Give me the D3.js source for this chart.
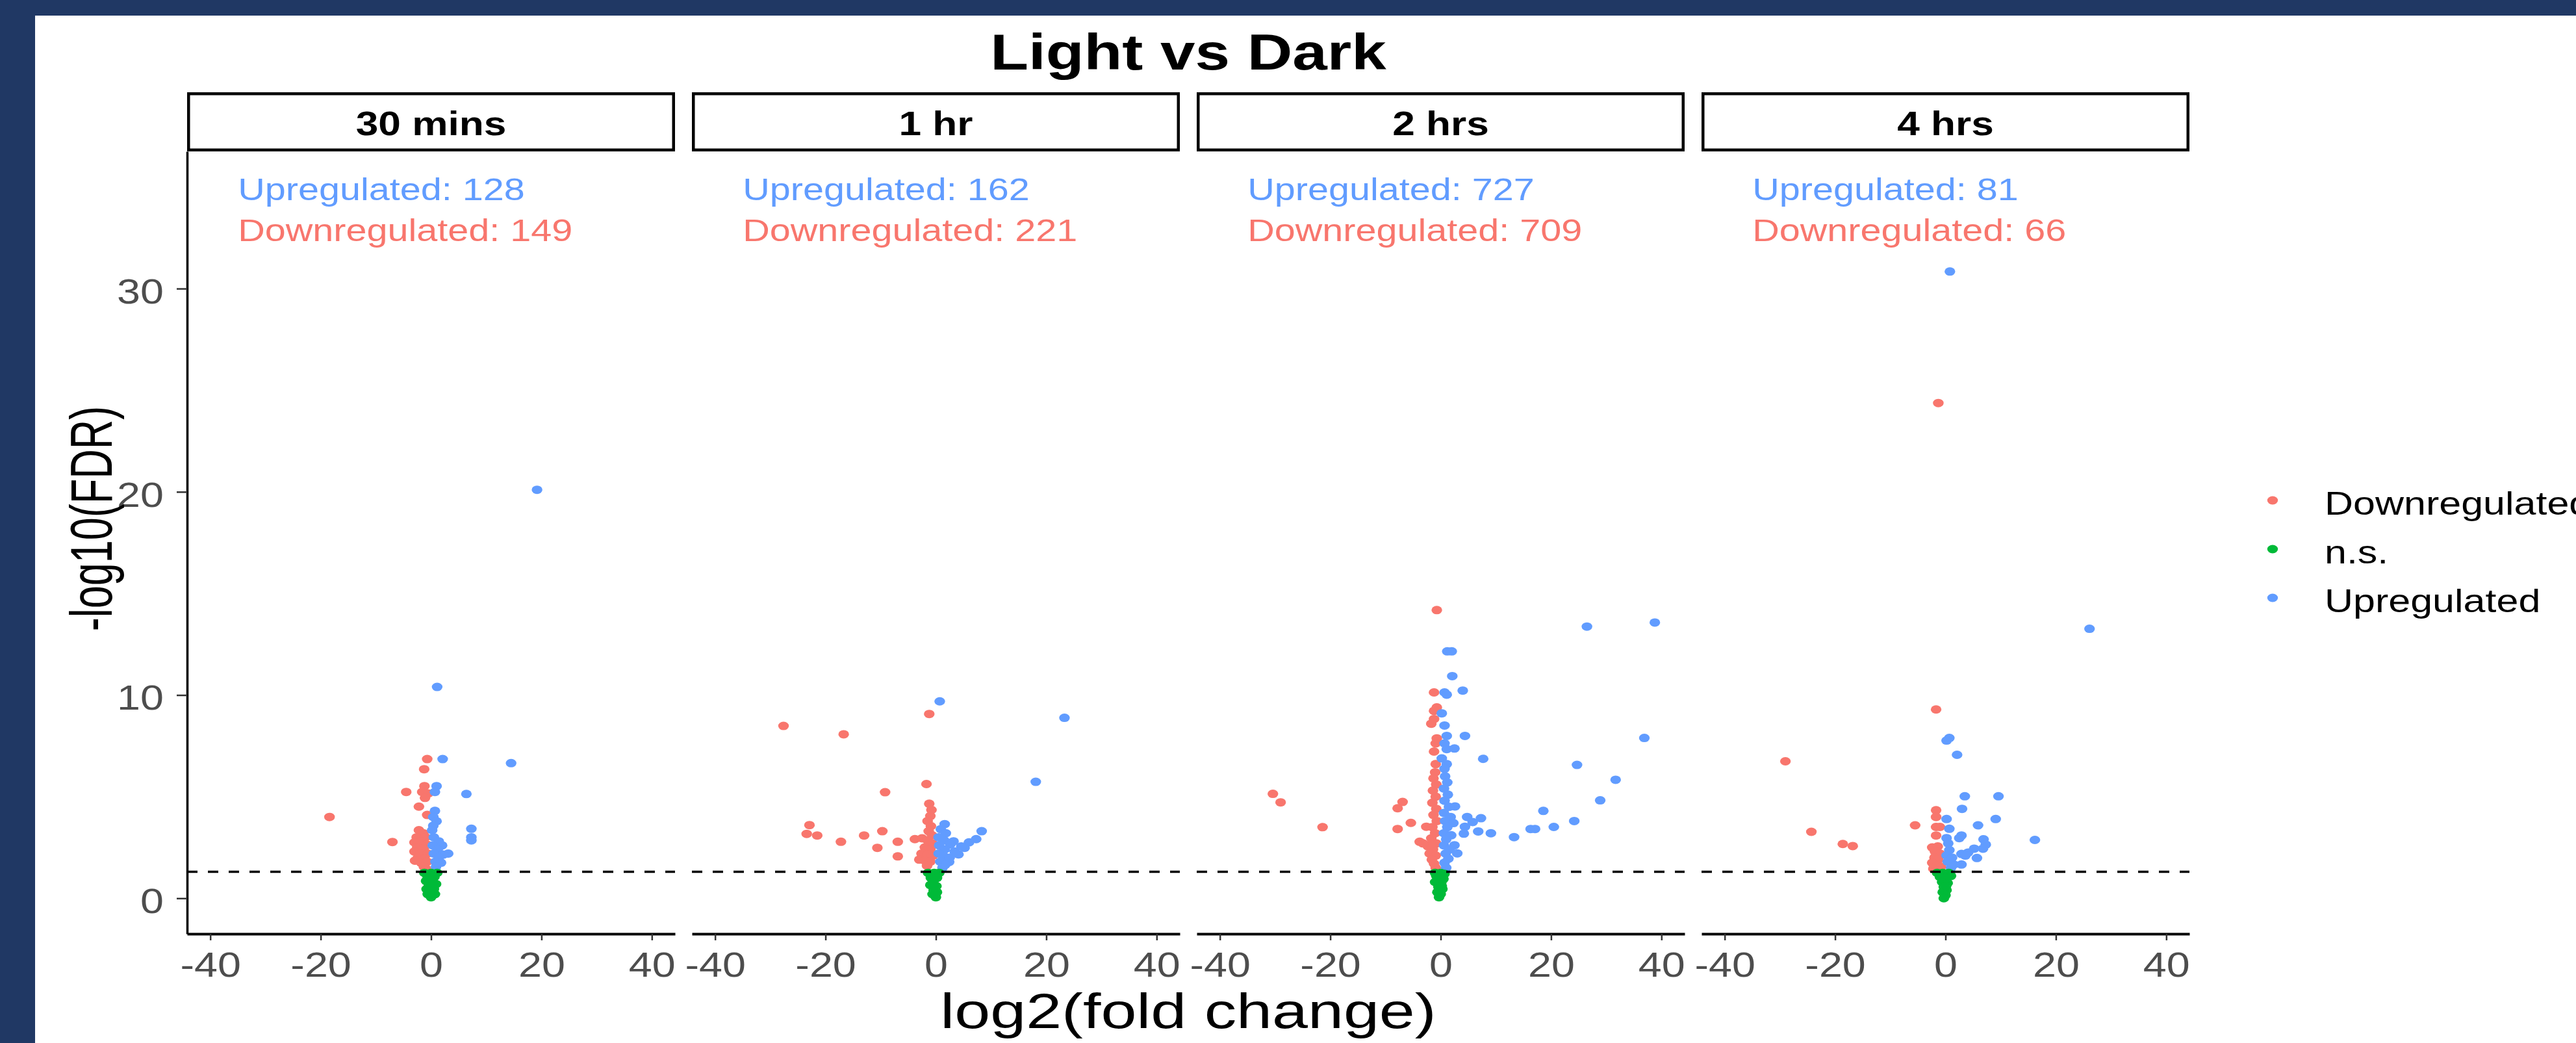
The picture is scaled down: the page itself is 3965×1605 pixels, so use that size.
<!DOCTYPE html>
<html>
<head>
<meta charset="utf-8">
<script src="https://cdnjs.cloudflare.com/ajax/libs/d3/7.8.5/d3.min.js"></script>
<style>
  body { margin: 0; background: #203864; }
  svg { display: block; }
  text { font-family: "Liberation Sans", Arial, sans-serif; }
</style>
</head>
<body>
<svg id="chart"></svg>
<script>
// facets, counts and ticks
const panels = ["30 mins", "1 hr", "2 hrs", "4 hrs"];
const upCounts = [128, 162, 727, 81];
const downCounts = [149, 221, 709, 66];
const categories = ["Downregulated", "n.s.", "Upregulated"];
const colors = ["#F8766D", "#00BA38", "#619CFF"];
const xTicks = [-40, -20, 0, 20, 40];
const yTicks = [0, 10, 20, 30];
const fdrCut = 1.301; // -log10(0.05)

// [log2FC, -log10(FDR)]
const down30 = [[-18.4,4.0],[-7.0,2.77],[-4.5,5.23],[-2.2,4.51],[-0.7,4.1],[-0.7,6.85],[-1.25,6.35],[-1.2,5.52],[-1.6,5.23],[-0.5,5.16],[-1.1,4.94],
  [-2.2,3.35],[-1.4,3.2],[-2.6,3.0],[-1.0,3.0],[-3.0,2.75],[-1.8,2.8],[-0.8,2.65],[-2.5,2.5],[-1.3,2.45],[-3.0,2.3],[-1.9,2.2],[-0.6,2.2],
  [-2.4,2.0],[-1.2,1.95],[-2.9,1.85],[-1.8,1.75],[-0.7,1.8],[-1.3,1.55],[-0.9,1.45]];
const ns30 = [[-1.2,1.25],[0,1.25],[1.1,1.25],[-0.6,1.05],[0.6,1.05],[-0.9,0.85],[0.3,0.85],[0.9,0.7],[-0.4,0.65],[-0.8,0.45],
  [0.5,0.45],[0,0.3],[-0.6,0.2],[0.7,0.2],[0,0.05],[0.2,0.6],[-0.2,0.95]];
const up30 = [[19.2,20.1],[1.1,10.4],[2.1,6.85],[14.5,6.65],[1.0,5.52],[0.7,5.23],[6.4,5.13],[0.7,4.3],[0.4,4.0],[1.0,3.79],[0.4,3.57],
  [0.2,3.35],[7.3,3.42],[7.3,3.0],[7.3,2.85],[0.5,3.0],[1.4,2.8],[2.0,2.6],[0.3,2.6],[1.2,2.4],[3.1,2.2],[2.2,2.15],[0.5,2.2],
  [1.4,2.0],[0.8,1.8],[1.8,1.75],[0.9,1.55]];

const down1h = [[-1.2,9.07],[-27.6,8.48],[-16.7,8.07],[-1.7,5.62],[-9.2,5.22],[-22.9,3.6],[-23.4,3.17],[-21.5,3.09],[-17.2,2.78],
  [-13.0,3.09],[-9.7,3.3],[-6.9,2.78],[-10.6,2.48],[-6.9,2.06],[-3.8,2.91],
  [-1.2,4.65],[-0.8,4.35],[-1.0,4.05],[-1.5,3.8],[-0.9,3.55],[-1.3,3.3],[-0.7,3.1],[-2.5,2.95],[-1.5,2.85],[-0.6,2.7],[-2.0,2.5],
  [-1.0,2.4],[-2.6,2.2],[-1.5,2.15],[-0.5,2.1],[-3.0,1.9],[-2.0,1.85],[-1.0,1.8],[-1.6,1.6]];
const ns1h = [[-1.4,1.25],[-0.3,1.25],[0.6,1.25],[-0.9,1.0],[0.2,1.0],[-0.5,0.8],[-1.0,0.65],[0.1,0.6],[-0.4,0.4],[0.2,0.3],
  [-0.6,0.2],[0,0.05],[-0.3,0.55],[-0.2,0.15]];
const up1h = [[0.7,9.69],[23.3,8.88],[18.1,5.73],[1.6,3.65],[8.3,3.3],[7.3,2.91],[6.0,2.75],[5.2,2.48],[3.2,2.8],[4.1,2.16],[2.4,1.79],
  [0.9,3.4],[1.8,3.2],[0.5,3.0],[1.5,2.85],[2.6,2.65],[0.6,2.6],[1.6,2.4],[3.4,2.3],[0.5,2.2],[1.5,2.05],[2.5,2.0],[0.8,1.8],
  [1.7,1.65],[1.2,1.5],[4.6,2.55]];

const down2h = [[-0.7,14.18],[-1.2,10.13],[-0.7,9.39],[-1.2,9.22],[-1.2,8.82],[-1.7,8.59],[-0.7,7.87],[-0.9,7.62],[-1.2,7.22],[-0.9,6.6],
  [-1.0,6.2],[-30.4,5.14],[-29.0,4.72],[-21.4,3.5],[-6.9,4.74],[-7.8,4.43],[-5.4,3.71],[-7.8,3.41],[-3.8,2.78],[-2.6,3.52],
  [-1.3,5.9],[-0.8,5.6],[-1.4,5.3],[-0.9,5.0],[-1.5,4.7],[-0.8,4.4],[-1.3,4.1],[-0.7,3.8],[-1.5,3.5],[-1.0,3.2],[-1.7,2.95],
  [-0.8,2.7],[-2.3,2.55],[-1.4,2.4],[-2.0,2.2],[-0.9,2.1],[-1.6,1.9],[-1.2,1.7],[-0.9,1.5],[-1.8,2.65],[-3.2,2.7]];
const ns2h = [[-1.0,1.25],[0,1.25],[0.7,1.2],[-0.5,1.0],[0.5,0.95],[-1.0,0.8],[0.1,0.75],[-0.4,0.55],[0.3,0.45],[-0.6,0.3],
  [0,0.2],[-0.3,0.05],[0.2,0.6],[-0.8,1.1]];
const up2h = [[26.5,13.37],[38.8,13.57],[1.2,12.15],[2.0,12.15],[2.1,10.93],[4.0,10.22],[0.7,10.13],[1.1,10.02],[0.2,9.1],[0.7,8.5],
  [1.1,7.99],[4.4,7.99],[0.7,7.62],[1.1,7.34],[2.5,7.37],[7.7,6.86],[36.9,7.89],[24.7,6.56],[0.2,6.88],[1.1,6.6],[0.7,6.37],
  [31.7,5.83],[28.9,4.82],[18.6,4.3],[24.2,3.8],[20.5,3.51],[16.3,3.41],[17.1,3.41],[13.3,3.01],[9.1,3.2],[6.8,3.29],[4.8,4.0],
  [7.3,3.94],[5.8,3.75],[4.4,3.52],[4.2,3.18],[2.6,4.52],[3.0,2.21],[2.5,2.61],
  [0.8,6.0],[1.2,5.7],[0.6,5.4],[1.3,5.1],[0.7,4.8],[1.5,4.5],[0.6,4.2],[1.8,4.0],[0.8,3.8],[2.3,3.7],[1.2,3.5],[0.6,3.2],
  [1.9,3.1],[1.0,2.9],[0.6,2.6],[1.6,2.4],[0.9,2.2],[1.4,1.95],[0.7,1.75],[1.0,1.5]];

const down4h = [[-1.3,24.37],[-1.7,9.29],[-29.0,6.74],[-1.7,4.33],[-1.7,4.0],[-1.7,3.51],[-1.0,3.51],[-1.7,3.09],[-5.5,3.59],
  [-24.3,3.27],[-18.6,2.67],[-16.8,2.57],[-2.4,2.5],[-1.4,2.55],[-1.9,2.3],[-1.0,2.2],[-2.0,2.0],[-1.3,1.9],[-2.4,1.75],
  [-1.6,1.6],[-0.8,1.55],[-2.2,1.45]];
const ns4h = [[-1.5,1.25],[-0.5,1.25],[0.6,1.25],[1.0,1.1],[-1.0,1.05],[0,1.0],[-0.6,0.8],[0.4,0.75],[-0.3,0.55],[0.2,0.4],
  [-0.5,0.3],[0,0.15],[-0.3,0.0],[0.1,0.6]];
const up4h = [[0.8,30.84],[26.1,13.26],[0.7,7.89],[0.2,7.76],[2.1,7.06],[3.5,5.02],[9.6,5.02],[3.0,4.4],[0.2,3.9],[9.1,3.9],
  [5.9,3.59],[0.7,3.42],[2.9,3.09],[2.5,2.96],[16.2,2.87],[0.2,2.96],[6.9,2.9],[7.3,2.64],[6.8,2.44],[5.2,2.44],[4.1,2.25],
  [2.9,2.18],[5.7,1.98],[0.7,2.37],[0.2,2.11],[1.5,1.66],[2.9,1.66],[0.5,2.7],[1.2,2.0],[0.4,1.8],[3.6,2.1],[1.0,1.5]];

const panelSeries = [[down30, ns30, up30], [down1h, ns1h, up1h], [down2h, ns2h, up2h], [down4h, ns4h, up4h]];

// page layout (the reference is stretched sideways, so text gets a horizontal scale)
const W = 3965, H = 1605;
const SX = 1.22;
const margin = {left: 288, right: 595, top: 233, bottom: 168};
const gap = 26;
const pw = (W - margin.left - margin.right - gap * 3) / 4;
const midX = margin.left + (W - margin.left - margin.right) / 2;

const svg = d3.select("#chart").attr("width", W).attr("height", H);
svg.append("rect").attr("width", W).attr("height", H).attr("fill", "#203864");
svg.append("rect").attr("x", 54).attr("y", 24).attr("width", W - 54).attr("height", H - 24).attr("fill", "#fff");

const x = d3.scaleLinear().domain([-44.2, 44.2]).range([0, pw]);
const y = d3.scaleLinear().domain([-1.75, 36.75]).range([H - margin.bottom, margin.top]);

function label(g, str, px, py, size, sx = SX) {
    return g.append("text")
        .attr("transform", `translate(${px},${py}) scale(${sx},1)`)
        .style("font-size", size + "px")
        .text(str);
}

// title
label(svg, "Light vs Dark", midX, 107, 77, 1.25)
    .attr("text-anchor", "middle").style("font-weight", "bold");

panels.forEach((name, i) => {
    const g = svg.append("g").attr("transform", `translate(${margin.left + i * (pw + gap)},0)`);

    // strip
    g.append("rect").attr("x", 2.25).attr("y", 144.25).attr("width", pw - 4.5).attr("height", 86.5)
        .attr("fill", "#fff").attr("stroke", "#000").attr("stroke-width", 4.5);
    label(g, name, pw / 2, 208, 51).attr("text-anchor", "middle").style("font-weight", "bold");

    // counts
    label(g, "Upregulated: " + upCounts[i], x(-35), y(35) + 20.5, 49, 1.175).attr("fill", colors[2]);
    label(g, "Downregulated: " + downCounts[i], x(-35), y(33) + 20.5, 49, 1.175).attr("fill", colors[0]);

    // points: red, blue, then green on top
    [0, 2, 1].forEach(c => {
        g.append("g").selectAll("ellipse")
            .data(panelSeries[i][c])
            .enter()
            .append("ellipse")
            .attr("cx", d => x(d[0]))
            .attr("cy", d => y(d[1]))
            .attr("rx", 8.2)
            .attr("ry", 6.5)
            .attr("fill", colors[c]);
    });

    // significance line
    g.append("line")
        .attr("x1", 0).attr("x2", pw)
        .attr("y1", y(fdrCut)).attr("y2", y(fdrCut))
        .attr("stroke", "#000").attr("stroke-width", 3.5).attr("stroke-dasharray", "16,16");

    // x axis
    const xa = g.append("g")
        .attr("transform", `translate(0,${H - margin.bottom})`)
        .call(d3.axisBottom(x).tickValues(xTicks).tickFormat(d => String(d))
            .tickSize(10).tickSizeOuter(0).tickPadding(18));
    xa.select(".domain").attr("stroke", "#000").attr("stroke-width", 4);
    xa.selectAll(".tick line").attr("stroke", "#333").attr("stroke-width", 2.5);
    xa.selectAll(".tick text")
        .attr("transform", `scale(${SX},1)`)
        .attr("fill", "#4D4D4D")
        .style("font-size", "53px")
        .style("font-family", "'Liberation Sans', Arial, sans-serif");

    // y axis on the first panel only
    if (i === 0) {
        const ya = g.append("g")
            .call(d3.axisLeft(y).tickValues(yTicks).tickFormat(d => String(d))
                .tickSize(16).tickSizeOuter(0).tickPadding(13.5));
        ya.select(".domain").attr("stroke", "#000").attr("stroke-width", 3.5);
        ya.selectAll(".tick line").attr("stroke", "#333").attr("stroke-width", 2.5);
        ya.selectAll(".tick text")
            .attr("transform", `scale(${SX},1)`)
            .attr("dy", "0.42em")
            .attr("fill", "#4D4D4D")
            .style("font-size", "53px")
            .style("font-family", "'Liberation Sans', Arial, sans-serif");
    }
});

// axis titles
label(svg, "log2(fold change)", midX, 1582, 76, 1.3).attr("text-anchor", "middle");
svg.append("text")
    .attr("transform", `translate(172,798) scale(1.45,1) rotate(-90)`)
    .attr("text-anchor", "middle")
    .style("font-size", "63px")
    .text("-log10(FDR)");

// legend
const leg = svg.append("g").attr("transform", "translate(3498,770)");
categories.forEach((c, k) => {
    leg.append("ellipse").attr("cx", 0).attr("cy", k * 75).attr("rx", 8.2).attr("ry", 6.5).attr("fill", colors[k]);
    label(leg, c, 80, k * 75 + 22, 50).attr("fill", "#000");
});
</script>
</body>
</html>
